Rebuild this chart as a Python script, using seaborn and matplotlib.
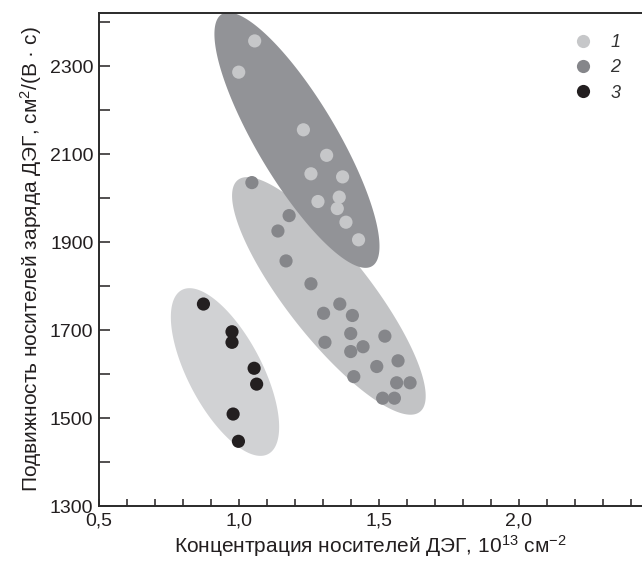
import numpy as np
import pandas as pd
import matplotlib
matplotlib.use("Agg")
import matplotlib.pyplot as plt
import seaborn as sns
from matplotlib.ticker import MultipleLocator, FuncFormatter

# ---- data ----
s1_x = [0.999, 1.056, 1.230, 1.313, 1.257, 1.370, 1.358, 1.282, 1.351, 1.382, 1.427]
s1_y = [2286, 2357, 2155, 2097, 2055, 2048, 2002, 1992, 1976, 1945, 1905]

s2_x = [1.046, 1.179, 1.139, 1.168, 1.257, 1.360, 1.302, 1.405, 1.399, 1.521,
        1.307, 1.443, 1.399, 1.568, 1.492, 1.410, 1.563, 1.611, 1.513, 1.555]
s2_y = [2035, 1960, 1925, 1857, 1805, 1759, 1738, 1733, 1692, 1686,
        1672, 1662, 1651, 1630, 1617, 1594, 1580, 1580, 1545, 1545]

s3_x = [0.873, 0.975, 0.975, 1.054, 1.063, 0.979, 0.998]
s3_y = [1759, 1696, 1672, 1613, 1577, 1509, 1447]

series_labels = ["1", "2", "3"]
x_ticks = [0.5, 1.0, 1.5, 2.0]
y_ticks = [1300, 1500, 1700, 1900, 2100, 2300]

# ellipse outlines: major-axis end points in data units
ell_tips = {
    "1": ((0.939, 2418), (1.475, 1845)),
    "2": ((0.996, 2041), (1.646, 1514)),
    "3": ((0.796, 1791), (1.104, 1418)),
}

# ---- styles ----
point_colors = {"1": "#c6c7c9", "2": "#85868a", "3": "#231f20"}
ell_colors = {"1": "#929397", "2": "#c2c3c5", "3": "#d1d2d4"}
ell_halfwidth_px = {"1": 40, "2": 42, "3": 37}
ell_z = {"1": 1.3, "2": 1.2, "3": 1.1}

df = pd.DataFrame({
    "x": s1_x + s2_x + s3_x,
    "y": s1_y + s2_y + s3_y,
    "series": [series_labels[0]] * len(s1_x) + [series_labels[1]] * len(s2_x)
              + [series_labels[2]] * len(s3_x),
})

sns.set_theme(style="ticks")
plt.rcParams["font.family"] = ["Liberation Sans", "DejaVu Sans"]
plt.rcParams["mathtext.default"] = "regular"

fig = plt.figure(figsize=(6.42, 5.61), dpi=100)
ax = fig.add_axes([99 / 642, 1 - 506 / 561, 543 / 642, 493 / 561])
ax.set_xlim(0.5, 0.5 + 543 / 280)
ax.set_ylim(1300, 1300 + 493 / 0.44)

# draw ellipses in display space so they are true ellipses on screen
fig.canvas.draw()
t = np.linspace(0, 2 * np.pi, 300)
for key, (p1, p2) in ell_tips.items():
    d1 = ax.transData.transform(p1)
    d2 = ax.transData.transform(p2)
    c = (d1 + d2) / 2
    dv = d2 - d1
    a = np.hypot(*dv) / 2
    u = dv / (2 * a)
    v = np.array([-u[1], u[0]])
    b = ell_halfwidth_px[key]
    pts = c + (a * np.cos(t))[:, None] * u + (b * np.sin(t))[:, None] * v
    dp = ax.transData.inverted().transform(pts)
    ax.fill(dp[:, 0], dp[:, 1], color=ell_colors[key], lw=0, zorder=ell_z[key])

sns.scatterplot(data=df, x="x", y="y", hue="series", palette=point_colors,
                s=90, linewidth=0, edgecolor="none", ax=ax, zorder=3,
                legend=True)

ax.set_xlim(0.5, 0.5 + 543 / 280)
ax.set_ylim(1300, 1300 + 493 / 0.44)

ax.set_xticks(x_ticks)
ax.set_yticks(y_ticks)
ax.xaxis.set_minor_locator(MultipleLocator(0.1))
ax.yaxis.set_minor_locator(MultipleLocator(100))
ax.xaxis.set_major_formatter(FuncFormatter(lambda v, p: f"{v:.1f}".replace(".", ",")))
ax.yaxis.set_major_formatter(FuncFormatter(lambda v, p: f"{int(v)}"))

tick_col = "#231f20"
ax.tick_params(axis="x", which="both", direction="in", length=5, width=1.1,
               colors=tick_col, labelsize=14, pad=5)
ax.tick_params(axis="y", which="both", direction="in", length=8, width=1.1,
               colors=tick_col, labelsize=14, pad=4)

for side in ["left", "bottom", "top"]:
    ax.spines[side].set_color("#2a2a2a")
    ax.spines[side].set_linewidth(1.4)
ax.spines["right"].set_visible(False)

ax.set_xlabel("Концентрация носителей ДЭГ, 10$^{13}$ см$^{-2}$",
              fontsize=15, color=tick_col, labelpad=2)
ax.set_ylabel("Подвижность носителей заряда ДЭГ, см$^{2}$/(В · с)",
              fontsize=15, color=tick_col, labelpad=4)

leg = ax.legend(loc="upper left", bbox_to_anchor=(0.842, 0.975), frameon=False,
                fontsize=13, handletextpad=0.5, labelspacing=0.45,
                borderpad=0, markerscale=1.0)
for txt in leg.get_texts():
    txt.set_fontstyle("italic")
    txt.set_color("#333333")

fig.savefig("out.png", dpi=100)
